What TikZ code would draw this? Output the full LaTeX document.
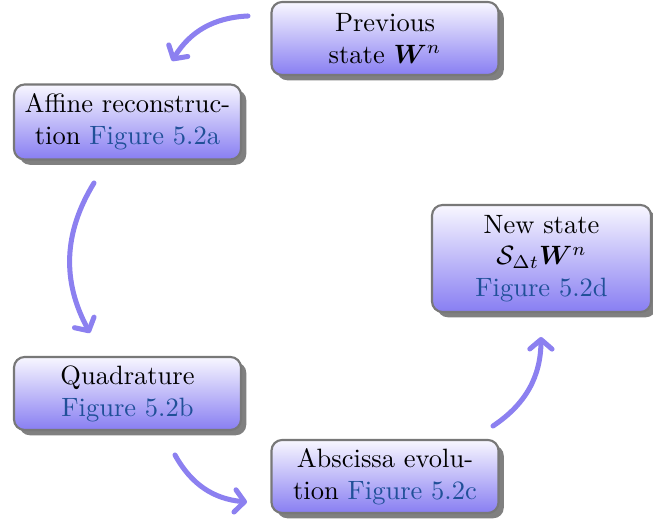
\documentclass[tikz,border=0pt]{standalone}
\usepackage{amsmath,amssymb,bm}
\usetikzlibrary{arrows.meta,shadows}
\definecolor{figblue}{RGB}{32,80,152}
\definecolor{arrowcol}{RGB}{140,128,240}
\definecolor{boxbot}{RGB}{136,126,242}
\definecolor{boxtop}{RGB}{248,247,255}
\definecolor{boxline}{RGB}{120,120,120}
\definecolor{shadowcol}{RGB}{128,128,128}
\begin{document}
\begin{tikzpicture}[x=0.3774pt,y=-0.3774pt,
  module/.style={draw=boxline, line width=0.8pt, rounded corners=4pt,
    top color=boxtop, bottom color=boxbot,
    drop shadow={fill=shadowcol, opacity=1, shadow xshift=2pt, shadow yshift=-2pt},
    align=center, inner sep=2pt, minimum width=85.67pt, minimum height=27.55pt},
  arr/.style={draw=arrowcol, line width=1.9pt, line cap=round,
    -{Straight Barb[round,length=3.6pt,width=8.4pt]}}]
\useasboundingbox (0,0) rectangle (653,527);

\node[module] (prev) at (385,38.5) {Previous\\state $\boldsymbol{W}^n$};
\node[module, minimum height=28.3pt] (aff) at (127.5,122) {Affine reconstruc-\\tion \textcolor{figblue}{Figure 5.2a}};
\node[module] (quad) at (127.5,393.5) {Quadrature\\\textcolor{figblue}{Figure 5.2b}};
\node[module] (absc) at (385,476.5) {Abscissa evolu-\\tion \textcolor{figblue}{Figure 5.2c}};
\node[module, minimum width=82.65pt, minimum height=40.4pt] (new) at (541.5,258.5)
  {New state\\$\mathcal{S}_{\Delta t}\boldsymbol{W}^n$\\\textcolor{figblue}{Figure 5.2d}};

\coordinate (a1s) at (248,16);  \coordinate (a1e) at (172,61);
\coordinate (a2s) at (94,183);  \coordinate (a2e) at (90,333);
\coordinate (a3s) at (175,455); \coordinate (a3e) at (247,502);
\coordinate (a4s) at (493,426); \coordinate (a4e) at (541,337);

\draw[arr] (a1s) to[bend right=28] (a1e);
\draw[arr] (a2s) to[bend right=30] (a2e);
\draw[arr] (a3s) to[bend right=28] (a3e);
\draw[arr] (a4s) to[bend right=28] (a4e);
\end{tikzpicture}
\end{document}
